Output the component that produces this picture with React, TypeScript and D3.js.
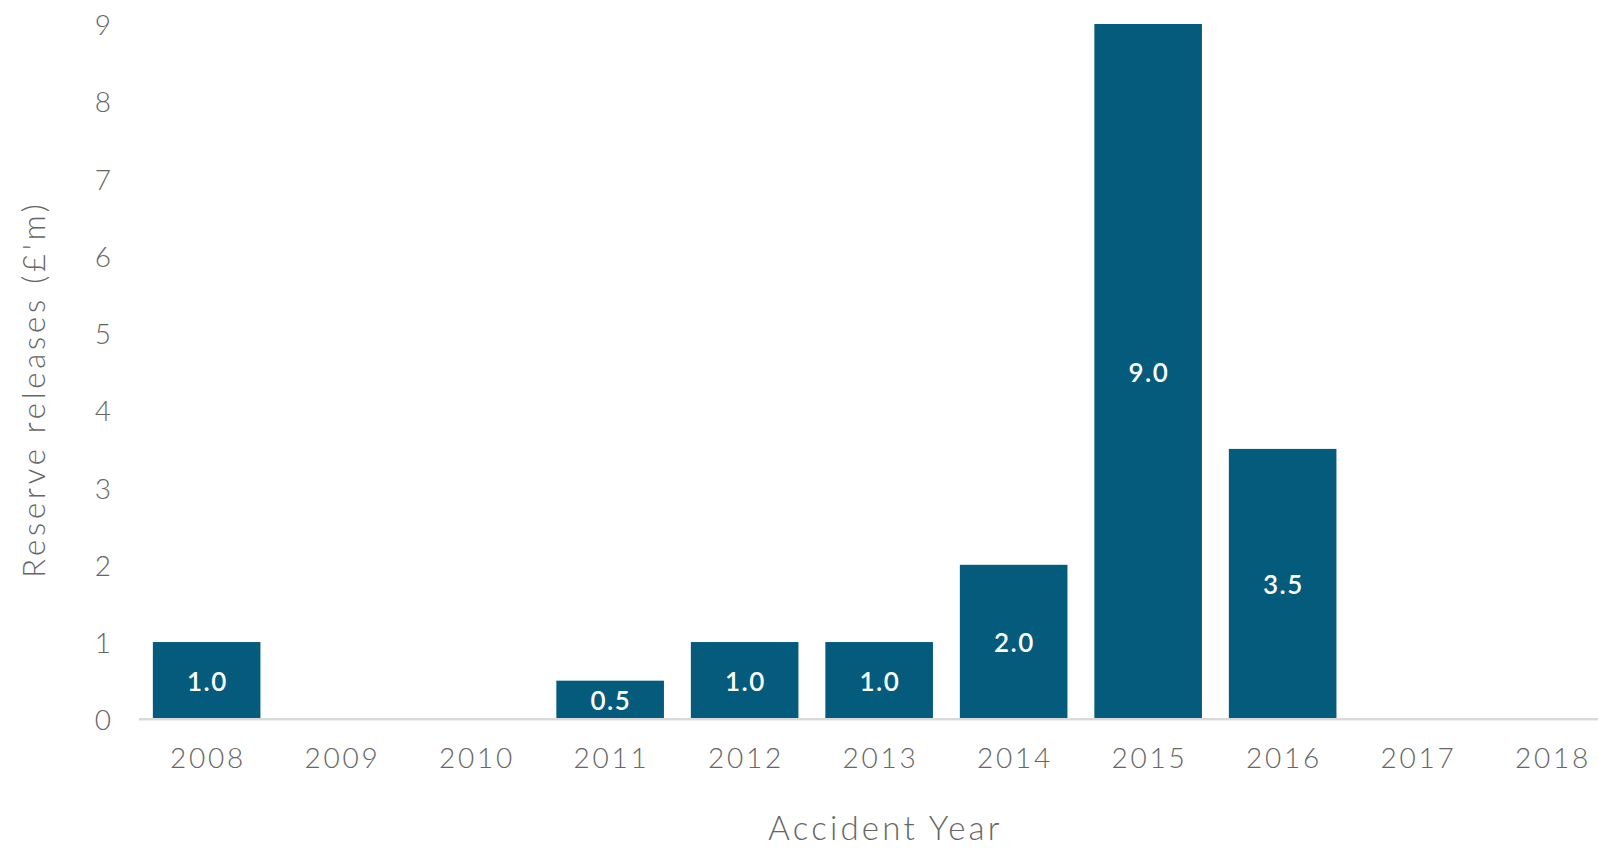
import React from "react";
import * as d3 from "d3";

const years = ["2008", "2009", "2010", "2011", "2012", "2013", "2014", "2015", "2016", "2017", "2018"];
const releases = [1.0, 0, 0, 0.5, 1.0, 1.0, 2.0, 9.0, 3.5, 0, 0];
const yTicks = [0, 1, 2, 3, 4, 5, 6, 7, 8, 9];

const W = 1598;
const H = 848;
const FONT = "Lato, 'Open Sans', sans-serif";

export default function App() {
  const x = d3.scaleBand<string>().domain(years).range([139.4, 139.4 + 11 * 134.5]).paddingInner(0.2).paddingOuter(0.1);
  const y = d3.scaleLinear().domain([0, 9]).range([719.3, 24]);
  const bw = x.bandwidth();
  return (
    <svg width={W} height={H} style={{ position: "absolute", left: 0, top: 0, background: "#fff" }}>
      {years.map((yr, i) =>
        releases[i] > 0 ? (
          <g key={yr}>
            <rect x={x(yr)} y={y(releases[i])} width={bw} height={y(0) - y(releases[i])} fill="#045b7c" />
            <text
              x={(x(yr) as number) + bw / 2 + 0.75}
              y={(y(releases[i]) + y(0)) / 2}
              textAnchor="middle"
              dominantBaseline="central"
              fill="#fff"
              fontFamily={FONT}
              fontSize={26}
              fontWeight={600}
              letterSpacing={1.5}
            >
              {releases[i].toFixed(1)}
            </text>
          </g>
        ) : null
      )}
      <line x1={139} x2={W} y1={y(0)} y2={y(0)} stroke="#d9d9d9" strokeWidth={2.5} />
      {yTicks.map((t) => (
        <text key={t} x={111} y={y(t)} textAnchor="end" dominantBaseline="central" fill="#666" fontFamily={FONT} fontWeight={300} fontSize={28}>
          {t}
        </text>
      ))}
      {years.map((yr) => (
        <text key={yr} x={(x(yr) as number) + bw / 2 + 1.4} y={767.5} textAnchor="middle" fill="#666" fontFamily={FONT} fontWeight={300} fontSize={28} letterSpacing={2.8}>
          {yr}
        </text>
      ))}
      <text x={885.5} y={840} textAnchor="middle" fill="#666" fontFamily={FONT} fontWeight={300} fontSize={33} letterSpacing={3.2}>
        Accident Year
      </text>
      <text
        transform={`translate(33,389) rotate(-90)`}
        textAnchor="middle"
        dominantBaseline="central"
        fill="#666"
        fontFamily={FONT}
        fontWeight={300}
        fontSize={31}
        letterSpacing={3.8}
      >
        Reserve releases (£'m)
      </text>
    </svg>
  );
}
